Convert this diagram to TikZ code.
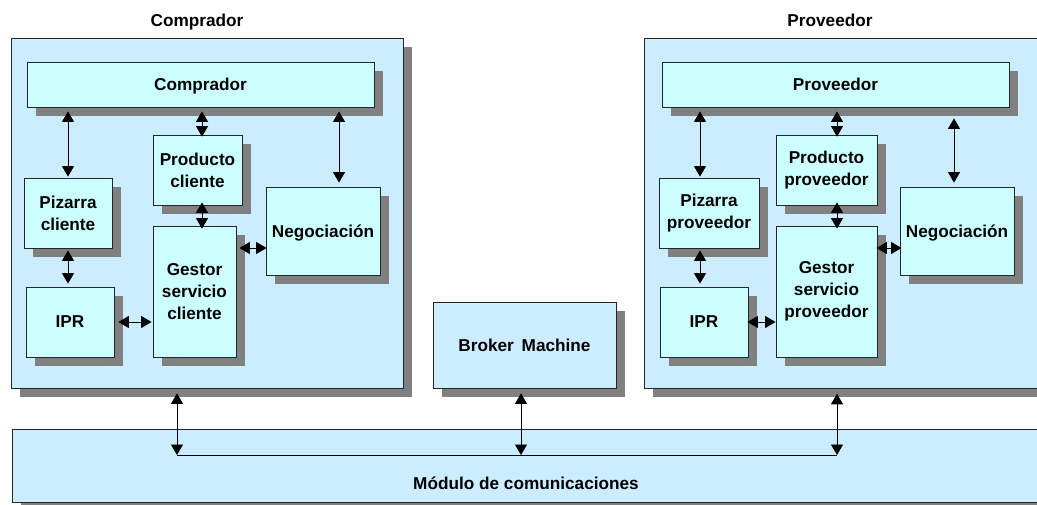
\documentclass[tikz,border=0pt]{standalone}
\usepackage{fontspec}
\setmainfont{Liberation Sans}
\usetikzlibrary{arrows.meta,shadows,calc}
\definecolor{outerfill}{HTML}{CCECFF}
\definecolor{innerfill}{HTML}{CCFFFF}
\definecolor{shadowgray}{HTML}{808080}
\newcommand\labelfont{\fontsize{17.2}{22}\selectfont\bfseries}
\tikzset{
  boxbase/.style={draw=black!85, line width=0.8pt, inner sep=0pt, align=center,
    font=\labelfont,
    drop shadow={shadow xshift=9pt, shadow yshift=-9pt, fill=shadowgray, opacity=1}},
  outerbox/.style={boxbase, fill=outerfill},
  innerbox/.style={boxbase, fill=innerfill},
  oneline/.style={text depth=0pt},
  title/.style={font=\labelfont, inner sep=0pt, text depth=0pt},
  biarrow/.style={{Triangle[length=10.5pt,width=12pt]}-{Triangle[length=10.5pt,width=12pt]},
    line width=0.9pt},
  busline/.style={line width=0.9pt}
}
\begin{document}
\begin{tikzpicture}[x=1pt,y=-1pt]
\useasboundingbox (0,0) rectangle (1037,504);
\clip (0,0) rectangle (1037,504);

% ---- buyer side ----
\node[outerbox, minimum width=392pt, minimum height=350pt] (outC) at (207,213) {};
\node[title] (titC) at (197,20) {Comprador};
\node[innerbox, oneline, minimum width=347pt, minimum height=45pt] (compC) at (200.5,84.5) {Comprador};
\node[innerbox, minimum width=88pt, minimum height=70pt] (pizC) at (68,213) {Pizarra\\cliente};
\node[innerbox, oneline, minimum width=88pt, minimum height=70pt] (iprC) at (70,322) {IPR};
\node[innerbox, minimum width=89pt, minimum height=70pt] (prodC) at (197.5,170) {Producto\\cliente};
\node[innerbox, minimum width=83pt, minimum height=131pt] (gestC) at (194.5,291.5) {Gestor\\servicio\\cliente};
\node[innerbox, oneline, minimum width=114pt, minimum height=88pt] (negC) at (323,231) {Negociación};

% ---- provider side (runs past the right edge) ----
\node[outerbox, minimum width=456pt, minimum height=350pt, anchor=north west] (outP) at (644,38) {};
\node[title] (titP) at (830,20) {Proveedor};
\node[innerbox, oneline, minimum width=347pt, minimum height=45pt] (compP) at (835.5,84.5) {Proveedor};
\node[innerbox, minimum width=100pt, minimum height=70pt] (pizP) at (709,213) {Pizarra\\proveedor};
\node[innerbox, oneline, minimum width=88pt, minimum height=70pt] (iprP) at (704,322) {IPR};
\node[innerbox, minimum width=101pt, minimum height=70pt] (prodP) at (826.5,170) {Producto\\proveedor};
\node[innerbox, minimum width=101pt, minimum height=131pt] (gestP) at (826.5,291.5) {Gestor\\servicio\\proveedor};
\node[innerbox, oneline, minimum width=114pt, minimum height=88pt] (negP) at (957,231) {Negociación};

% ---- broker and communications module ----
\node[outerbox, oneline, minimum width=183pt, minimum height=86pt] (broker) at (524.5,345) {Broker\hspace{3pt} Machine};
\node[outerbox, minimum width=1088pt, minimum height=73pt, anchor=north west] (mod) at (12,429) {};
\node[title] (modtxt) at (526,483) {Módulo de comunicaciones};

% ---- buyer connectors ----
\coordinate (cpx) at ([xshift=4.5pt]prodC.north);
\coordinate (cnx) at ([xshift=16pt]negC.north);
\coordinate (pgx) at ([xshift=4.5pt]prodC.south);
\coordinate (gny) at ([yshift=-17pt]negC.west);
\draw[biarrow, shorten <=4pt, shorten >=1pt] (pizC.north |- compC.south) -- (pizC.north);
\draw[biarrow, shorten <=4pt, shorten >=-2pt] (cpx |- compC.south) -- (cpx);
\draw[biarrow, shorten <=4pt, shorten >=4pt] (cnx |- compC.south) -- (cnx);
\draw[biarrow, shorten <=-3pt, shorten >=-3pt] (pgx) -- (pgx |- gestC.north);
\draw[biarrow, shorten <=2pt, shorten >=3pt] (pizC.south) -- (pizC.south |- iprC.north);
\draw[biarrow, shorten <=4pt, shorten >=1pt] (iprC.east) -- (iprC.east -| gestC.west);
\draw[biarrow, shorten <=3pt, shorten >=-1pt] (gny -| gestC.east) -- (gny);

% ---- provider connectors ----
\coordinate (ppx) at ([xshift=-9pt]pizP.north);
\coordinate (prx) at ([xshift=10.5pt]prodP.north);
\coordinate (pnx) at ([xshift=-3pt]negP.north);
\coordinate (pgy) at ([xshift=10.5pt]prodP.south);
\coordinate (pix) at ([xshift=-9pt]pizP.south);
\coordinate (gnP) at ([yshift=-17pt]negP.west);
\draw[biarrow, shorten <=4pt, shorten >=1pt] (ppx |- compP.south) -- (ppx);
\draw[biarrow, shorten <=4pt, shorten >=-2pt] (prx |- compP.south) -- (prx);
\draw[biarrow, shorten <=11pt, shorten >=4pt] (pnx |- compP.south) -- (pnx);
\draw[biarrow, shorten <=-3pt, shorten >=-3pt] (pgy) -- (pgy |- gestP.north);
\draw[biarrow, shorten <=2pt, shorten >=3pt] (pix) -- (pix |- iprP.north);
\draw[biarrow, shorten <=-1pt, shorten >=0pt] (iprP.east) -- (iprP.east -| gestP.west);
\draw[biarrow, shorten <=-1pt, shorten >=-2pt] (gnP -| gestP.east) -- (gnP);

% ---- bus to the communications module ----
\coordinate (busL) at (177,455);
\coordinate (busM) at (521,455);
\coordinate (busR) at (837,455);
\draw[busline] (busL) -- (busR);
\draw[biarrow, shorten <=5pt] (busL |- outC.south) -- (busL);
\draw[biarrow, shorten <=5pt] (busM |- broker.south) -- (busM);
\draw[biarrow, shorten <=5pt] (busR |- outP.south) -- (busR);
\end{tikzpicture}
\end{document}
